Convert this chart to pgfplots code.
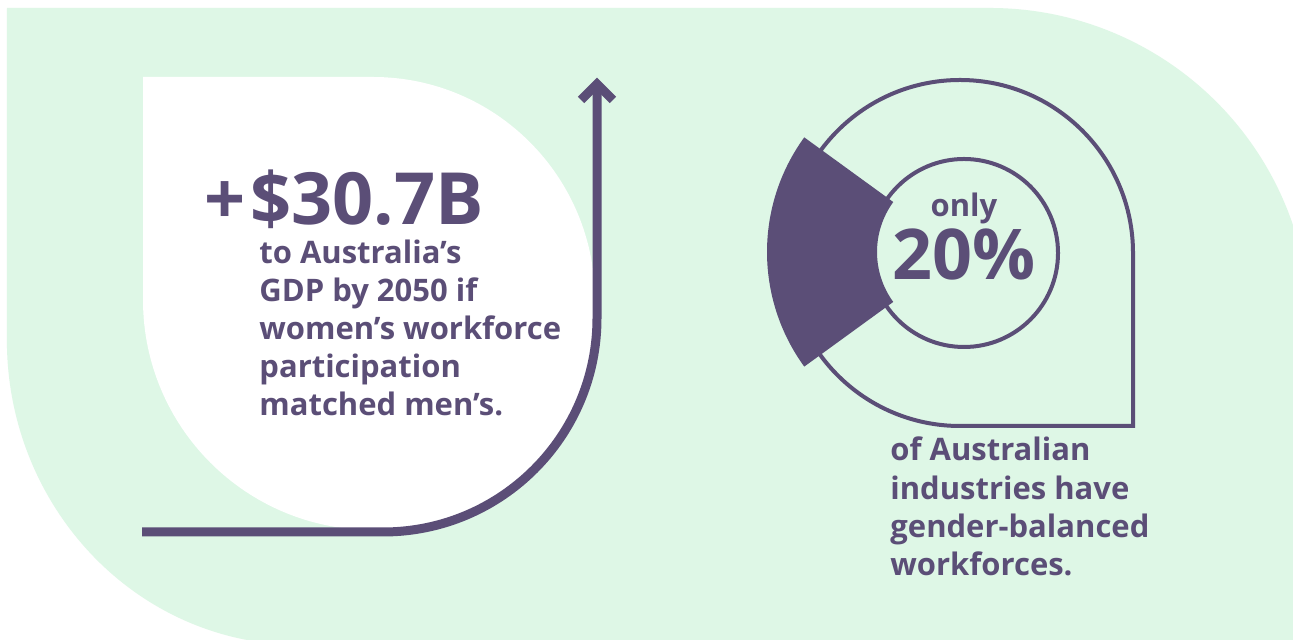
\documentclass[border=0pt]{standalone}
\usepackage{pgfplots}
\pgfplotsset{compat=1.18}
\usepackage{fontspec}
\setmainfont{Open Sans}
\definecolor{pur}{RGB}{91,78,119}
\definecolor{mint}{RGB}{222,247,230}
\def\share{20}
\begin{document}
\begin{tikzpicture}
\begin{axis}[x=0.5pt,y=0.5pt,xmin=0,xmax=1293,ymin=0,ymax=640,hide axis,scale only axis,clip=true]
\fill[white] (0,0) rectangle (1293,640);
% mint background
\fill[mint] (7,632) -- (990,632) arc[start angle=90,end angle=18.72,radius=320] -- (1293,0) -- (247,0)
  arc[start angle=-100.4,end angle=-180,x radius=293,y radius=305] -- cycle;
% white leaf
\fill[white] (143,563) -- (373,563) arc[start angle=90,end angle=0,x radius=222,y radius=223] -- (597,322)
  arc[start angle=0,end angle=-90,radius=214] -- (373,110) arc[start angle=-90,end angle=-180,radius=230] -- cycle;
% arrow
\draw[pur,line width=4.5pt] (142,108) -- (383,108) arc[start angle=-90,end angle=0,radius=214] -- (597,556);
\draw[pur,line width=4.5pt,miter limit=10] (581,540) -- (597,556) -- (613,540);
% teardrop outline
\draw[pur,line width=2pt] (1133,387) arc[start angle=0,end angle=270,radius=173] -- (1133,214) -- cycle;
\draw[pur,line width=2pt] (964,387) circle[radius=94];
% 20% sector
\fill[pur] ({962+195*cos(180-1.8*\share)},{388+195*sin(180-1.8*\share)})
  arc[start angle={180-1.8*\share},end angle={180+1.8*\share},radius=195]
  -- ({962+85*cos(180+1.8*\share)},{388+85*sin(180+1.8*\share)})
  arc[start angle={180+1.8*\share},end angle={180-1.8*\share},radius=85] -- cycle;
% texts
\node[anchor=base west,inner sep=0,text=pur,font=\fontsize{36}{40}\selectfont\bfseries] at (204,415) {+};
\node[anchor=base west,inner sep=0,text=pur,font=\fontsize{36}{40}\selectfont\bfseries] at (250,415) {\$30.7B};
\begin{scope}[every node/.style={anchor=base west,inner sep=0,text=pur,font=\fontsize{15.5}{19}\selectfont\bfseries}]
\node at (259,376) {to Australia’s};
\node at (259,338) {GDP by 2050 if};
\node at (259,300) {women’s workforce};
\node at (259,262) {participation};
\node at (259,224) {matched men’s.};
\node at (890,179) {of Australian};
\node at (890,140) {industries have};
\node at (890,102) {gender-balanced};
\node at (890,64) {workforces.};
\node[anchor=base] at (964,423) {only};
\end{scope}
\node[anchor=base,inner sep=0,text=pur,font=\fontsize{35}{40}\selectfont\bfseries] at (964,360) {20\%};
\end{axis}
\end{tikzpicture}
\end{document}
